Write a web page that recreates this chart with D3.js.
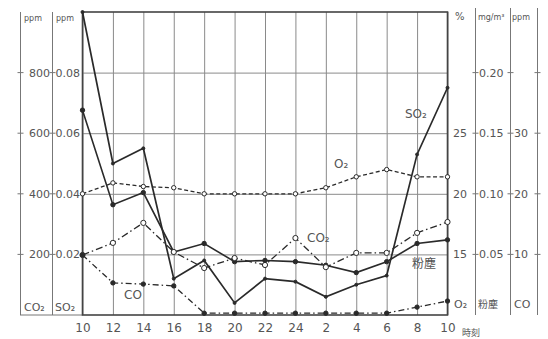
<!DOCTYPE html>
<html>
<head>
<meta charset="utf-8">
<script src="https://cdn.jsdelivr.net/npm/d3@7"></script>
<style>
body { margin: 0; background: #fff; }
svg text { font-family: "DejaVu Sans", "Noto Sans CJK JP", sans-serif; fill: #555; }
.frame { stroke: #444; fill: none; }
</style>
</head>
<body>
<div id="graph"></div>
<script>
// hours of observation (10 o'clock to 10 o'clock next day)
var hours = ["10", "12", "14", "16", "18", "20", "22", "24", "2", "4", "6", "8", "10"];

// series values
var so2 = [0.100, 0.050, 0.055, 0.012, 0.018, 0.004, 0.012, 0.011, 0.006, 0.010, 0.013, 0.053, 0.075]; // ppm
var dust = [0.169, 0.091, 0.101, 0.052, 0.059, 0.044, 0.045, 0.044, 0.041, 0.035, 0.044, 0.059, 0.062]; // mg/m3
var co2 = [198, 238, 304, 208, 155, 188, 165, 254, 158, 205, 205, 271, 307]; // ppm
var o2 = [20.0, 20.9, 20.6, 20.5, 20.0, 20.0, 20.0, 20.0, 20.5, 21.4, 22.0, 21.4, 21.4]; // %
var co = [9.9, 5.3, 5.1, 4.8, 0.3, 0.3, 0.3, 0.3, 0.3, 0.3, 0.3, 1.3, 2.3]; // ppm

// axis ticks
var co2Ticks = [200, 400, 600, 800];
var so2Ticks = [0.02, 0.04, 0.06, 0.08];
var o2Ticks = [15, 20, 25];
var dustTicks = [0.05, 0.10, 0.15, 0.20];
var coTicks = [10, 20, 30];

var width = 548, height = 339;
var plotLeft = 82.5, plotRight = 447.5, plotTop = 12, plotBottom = 315;

var svg = d3.select("#graph")
    .append("svg")
    .attr("width", width)
    .attr("height", height);

var xScale = d3.scaleLinear().domain([0, hours.length - 1]).range([plotLeft, plotRight]);
var yCO2 = d3.scaleLinear().domain([0, 1000]).range([plotBottom, plotTop]);
var ySO2 = d3.scaleLinear().domain([0, 0.1]).range([plotBottom, plotTop]);
var yO2 = d3.scaleLinear().domain([10, 35]).range([plotBottom, plotTop]);
var yDust = d3.scaleLinear().domain([0, 0.25]).range([plotBottom, plotTop]);
var yCO = d3.scaleLinear().domain([0, 50]).range([plotBottom, plotTop]);

// grid
var gx = svg.append("g")
    .attr("transform", "translate(0," + plotBottom + ")")
    .call(d3.axisBottom(xScale).tickValues(d3.range(hours.length))
        .tickSize(-(plotBottom - plotTop)).tickFormat(""));
gx.select(".domain").remove();

var gy = svg.append("g")
    .attr("transform", "translate(" + plotLeft + ",0)")
    .call(d3.axisLeft(yCO2).tickValues(co2Ticks).tickSize(-(plotRight - plotLeft)).tickFormat(""));
gy.select(".domain").remove();

svg.selectAll(".tick line").attr("stroke", "#8a8a8a");

// x labels
var xAxis = svg.append("g")
    .attr("transform", "translate(0," + plotBottom + ")")
    .call(d3.axisBottom(xScale).tickValues(d3.range(hours.length))
        .tickSize(0).tickPadding(8)
        .tickFormat(function(i) { return hours[i]; }));
xAxis.select(".domain").remove();
xAxis.selectAll("text").style("font-size", "12px").attr("fill", "#555");

svg.append("text")
    .attr("x", 462).attr("y", 336)
    .style("font-size", "9px")
    .text("時刻");

// left axis columns
var colLines = [20.5, 52.5];
colLines.forEach(function(cx) {
    svg.append("line")
        .attr("x1", cx).attr("x2", cx)
        .attr("y1", plotTop).attr("y2", plotBottom)
        .attr("stroke", "#777");
    svg.selectAll(null)
        .data(co2Ticks)
        .enter().append("line")
        .attr("x1", cx - 3).attr("x2", cx + 3)
        .attr("y1", function(d) { return yCO2(d); })
        .attr("y2", function(d) { return yCO2(d); })
        .attr("stroke", "#777");
});
svg.append("line")
    .attr("x1", 20).attr("x2", plotLeft)
    .attr("y1", plotBottom).attr("y2", plotBottom)
    .attr("stroke", "#777");

var axisCO2 = svg.append("g")
    .attr("transform", "translate(50,0)")
    .call(d3.axisLeft(yCO2).tickValues(co2Ticks).tickSize(0).tickPadding(0));
axisCO2.select(".domain").remove();

var axisSO2 = svg.append("g")
    .attr("transform", "translate(80,0)")
    .call(d3.axisLeft(ySO2).tickValues(so2Ticks).tickSize(0).tickPadding(0)
        .tickFormat(d3.format(".2f")));
axisSO2.select(".domain").remove();

// right axis columns
var rightLines = [475.5, 510.5, 537.5];
rightLines.forEach(function(cx) {
    svg.append("line")
        .attr("x1", cx).attr("x2", cx)
        .attr("y1", 8).attr("y2", plotBottom)
        .attr("stroke", "#777");
    svg.selectAll(null)
        .data(dustTicks)
        .enter().append("line")
        .attr("x1", cx - 3).attr("x2", cx + 3)
        .attr("y1", function(d) { return yDust(d); })
        .attr("y2", function(d) { return yDust(d); })
        .attr("stroke", "#777");
});

var axisO2 = svg.append("g")
    .attr("transform", "translate(453,0)")
    .call(d3.axisRight(yO2).tickValues(o2Ticks).tickSize(0).tickPadding(0));
axisO2.select(".domain").remove();

var axisDust = svg.append("g")
    .attr("transform", "translate(479,0)")
    .call(d3.axisRight(yDust).tickValues(dustTicks).tickSize(0).tickPadding(0)
        .tickFormat(d3.format(".2f")));
axisDust.select(".domain").remove();

var axisCO = svg.append("g")
    .attr("transform", "translate(514,0)")
    .call(d3.axisRight(yCO).tickValues(coTicks).tickSize(0).tickPadding(0));
axisCO.select(".domain").remove();

[axisCO2, axisSO2, axisO2, axisDust, axisCO].forEach(function(g) {
    g.selectAll("text").style("font-size", "11px").attr("fill", "#555");
});

// column headers and footers
var heads = [
    { x: 24, y: 21, t: "ppm", s: 8 },
    { x: 56, y: 21, t: "ppm", s: 8 },
    { x: 455, y: 20, t: "%", s: 10 },
    { x: 478, y: 20, t: "mg/m³", s: 8 },
    { x: 512, y: 20, t: "ppm", s: 8 },
    { x: 24, y: 311, t: "CO₂", s: 11 },
    { x: 55, y: 311, t: "SO₂", s: 11 },
    { x: 454, y: 308, t: "O₂", s: 11 },
    { x: 478, y: 308, t: "粉塵", s: 10 },
    { x: 514, y: 308, t: "CO", s: 11 }
];
svg.selectAll(null)
    .data(heads)
    .enter().append("text")
    .attr("x", function(d) { return d.x; })
    .attr("y", function(d) { return d.y; })
    .style("font-size", function(d) { return d.s + "px"; })
    .text(function(d) { return d.t; });

// plot frame
svg.append("rect")
    .attr("class", "frame")
    .attr("x", plotLeft).attr("y", plotTop)
    .attr("width", plotRight - plotLeft).attr("height", plotBottom - plotTop)
    .attr("stroke-width", 1.6);

// series
var series = [
    { data: so2, y: ySO2, dash: null, w: 1.7, mark: "fill", r: 1.5 },
    { data: dust, y: yDust, dash: null, w: 1.6, mark: "fill", r: 2.2 },
    { data: co2, y: yCO2, dash: "7,3,1.5,3", w: 1.3, mark: "open", r: 2.6 },
    { data: o2, y: yO2, dash: "4,2.5", w: 1.3, mark: "open", r: 2.2 },
    { data: co, y: yCO, dash: "6,3,1.5,3", w: 1.3, mark: "fill", r: 2.2 }
];

series.forEach(function(s) {
    var line = d3.line()
        .x(function(d, i) { return xScale(i); })
        .y(function(d) { return s.y(d); });

    svg.append("path")
        .datum(s.data)
        .attr("d", line)
        .attr("fill", "none")
        .attr("stroke", "#2a2a2a")
        .attr("stroke-width", s.w)
        .attr("stroke-dasharray", s.dash);

    svg.selectAll(null)
        .data(s.data)
        .enter().append("circle")
        .attr("cx", function(d, i) { return xScale(i); })
        .attr("cy", function(d) { return s.y(d); })
        .attr("r", s.r)
        .attr("fill", s.mark === "open" ? "#fff" : "#2a2a2a")
        .attr("stroke", "#2a2a2a")
        .attr("stroke-width", 1);
});

// in-plot labels
var labels = [
    { x: 405, y: 118, t: "SO₂" },
    { x: 334, y: 168, t: "O₂" },
    { x: 307, y: 242, t: "CO₂" },
    { x: 412, y: 268, t: "粉塵" },
    { x: 124, y: 299, t: "CO" }
];
svg.selectAll(null)
    .data(labels)
    .enter().append("text")
    .attr("x", function(d) { return d.x; })
    .attr("y", function(d) { return d.y; })
    .style("font-size", "12px")
    .attr("fill", "#555")
    .text(function(d) { return d.t; });
</script>
</body>
</html>
